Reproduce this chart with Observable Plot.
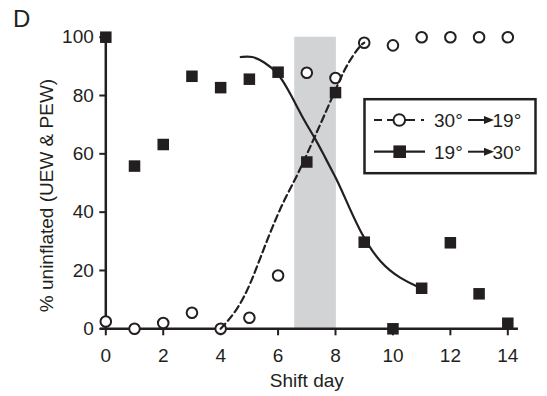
<!DOCTYPE html>
<html>
<head>
<meta charset="utf-8">
<script src="https://cdn.jsdelivr.net/npm/d3@7"></script>
<script src="https://cdn.jsdelivr.net/npm/@observablehq/plot@0.6"></script>
<style>
html, body { margin: 0; padding: 0; background: #fff; }
#chart { width: 547px; height: 396px; }
</style>
</head>
<body>
<div id="chart"></div>
<script>
// ---- data ----
const days = [0, 1, 2, 3, 4, 5, 6, 7, 8, 9, 10, 11, 12, 13, 14];
// 30° -> 19° (open circles)
const warmToCold = [2.5, 0, 2, 5.5, 0, 3.8, 18.3, 87.8, 86, 98.1, 97.2, 100, 100, 100, 100];
// 19° -> 30° (filled squares)
const coldToWarm = [100, 55.8, 63.2, 86.6, 82.7, 85.6, 88, 57.2, 81, 29.7, 0, 13.9, 29.5, 12, 1.9];
// fitted curve, 30° -> 19° (dashed)
const fitUpX = [4.0, 4.58, 5.04, 5.39, 5.8, 6.2, 6.64, 7.01, 7.48, 7.94, 8.29, 8.64, 8.93, 9.0];
const fitUpY = [0, 6.3, 15.4, 24.6, 34.9, 44, 52, 60, 70.3, 80.6, 88.6, 94.3, 97.8, 98.1];
// fitted curve, 19° -> 30° (solid)
const fitDownX = [4.7, 5.1, 5.5, 6.0, 6.43, 6.9, 7.3, 7.65, 8.0, 8.17, 8.87, 9.57, 10.26, 10.9, 11.0];
const fitDownY = [93.2, 93.6, 91.6, 88, 80.6, 71.5, 65.2, 58.5, 52, 48.6, 32.6, 22.3, 17.2, 14.3, 13.9];
// shaded window (shift days)
const shadeWindow = [6.58, 8.03];
const xTicks = [0, 2, 4, 6, 8, 10, 12, 14];
const yTicks = [0, 20, 40, 60, 80, 100];
const xLabel = "Shift day";
const yLabel = "% uninflated (UEW & PEW)";
const panelLabel = "D";
const legendRows = [
  { from: "30°", to: "19°", symbol: "circle" },
  { from: "19°", to: "30°", symbol: "square" }
];

// ---- drawing ----
const ink = "#231f20";
const shade = [{ x1: shadeWindow[0], x2: shadeWindow[1], y1: yTicks[0], y2: yTicks[yTicks.length - 1] }];
const upLine = fitUpX.map((x, i) => ({ x, y: fitUpY[i] }));
const downLine = fitDownX.map((x, i) => ({ x, y: fitDownY[i] }));

const plot = Plot.plot({
  width: 547,
  height: 396,
  marginLeft: 105.3,
  marginRight: 39.7,
  marginTop: 36.7,
  marginBottom: 67.7,
  x: { domain: [0, 14] },
  y: { domain: [0, 100] },
  style: { fontFamily: "'Liberation Sans', Arial, Helvetica, sans-serif", fontSize: "19px", color: ink, background: "#fff", overflow: "visible" },
  marks: [
    Plot.rect(shade, { x1: "x1", x2: "x2", y1: "y1", y2: "y2", fill: "#d1d3d4" }),
    Plot.axisY(yTicks, { tickSize: 6, tickPadding: 6, strokeWidth: 2, label: null, stroke: ink, fill: ink }),
    Plot.axisX(xTicks, { tickSize: 7, tickPadding: 13, strokeWidth: 2, label: null, stroke: ink, fill: ink }),
    Plot.ruleX([0], { y1: 0, y2: 100, stroke: ink, strokeWidth: 2.5 }),
    Plot.ruleY([0], { x1: -0.18, x2: 14.37, stroke: ink, strokeWidth: 2.5 }),
    Plot.dot(days, { x: d => d, y: warmToCold, symbol: "circle", r: 5.3, fill: "white", stroke: ink, strokeWidth: 2 }),
    Plot.line(upLine, { x: "x", y: "y", curve: "basis", stroke: ink, strokeWidth: 2.2, strokeDasharray: "7,4" }),
    Plot.line(downLine, { x: "x", y: "y", curve: "basis", stroke: ink, strokeWidth: 2.2 }),
    Plot.dot(days, { x: d => d, y: coldToWarm, symbol: "square", r: 6.5, fill: ink, stroke: "none" }),
    Plot.text([xLabel], { text: d => d, frameAnchor: "bottom", dy: 44.5, lineAnchor: "top", textAnchor: "middle", fill: ink }),
    Plot.text([yLabel], { text: d => d, frameAnchor: "left", dx: -59.3, dy: 12.5, rotate: -90, textAnchor: "middle", fill: ink })
  ]
});

document.getElementById("chart").appendChild(plot);

// panel letter and legend
const svg = d3.select(plot);
svg.append("text").attr("x", 13).attr("y", 26.5).attr("text-anchor", "start")
  .attr("font-size", 24).attr("fill", ink).text(panelLabel);

const lg = svg.append("g").attr("text-anchor", "start");
lg.append("rect").attr("x", 364.5).attr("y", 99.2).attr("width", 171).attr("height", 74)
  .attr("fill", "white").attr("stroke", ink).attr("stroke-width", 2.5);

const rowY = [120, 151.7];
legendRows.forEach((row, i) => {
  const y = rowY[i];
  const ln = lg.append("line").attr("x1", 374).attr("x2", 425).attr("y1", y).attr("y2", y)
    .attr("stroke", ink).attr("stroke-width", 2.2);
  if (row.symbol === "circle") {
    ln.attr("stroke-dasharray", "8,5,28,6,3,10");
    lg.append("circle").attr("cx", 399.3).attr("cy", y).attr("r", 5.8)
      .attr("fill", "white").attr("stroke", ink).attr("stroke-width", 2);
  } else {
    lg.append("rect").attr("x", 399.7 - 6.3).attr("y", y - 6.3).attr("width", 12.6).attr("height", 12.6).attr("fill", ink);
  }
  lg.append("text").attr("x", 434).attr("y", y + 6.8).attr("font-size", 19).attr("fill", ink).text(row.from);
  lg.append("line").attr("x1", 468).attr("x2", 486).attr("y1", y).attr("y2", y).attr("stroke", ink).attr("stroke-width", 2);
  lg.append("path").attr("d", `M484,${y - 4}L494,${y}L484,${y + 4}Z`).attr("fill", ink);
  lg.append("text").attr("x", 492.5).attr("y", y + 6.8).attr("font-size", 19).attr("fill", ink).text(row.to);
});
</script>
</body>
</html>
